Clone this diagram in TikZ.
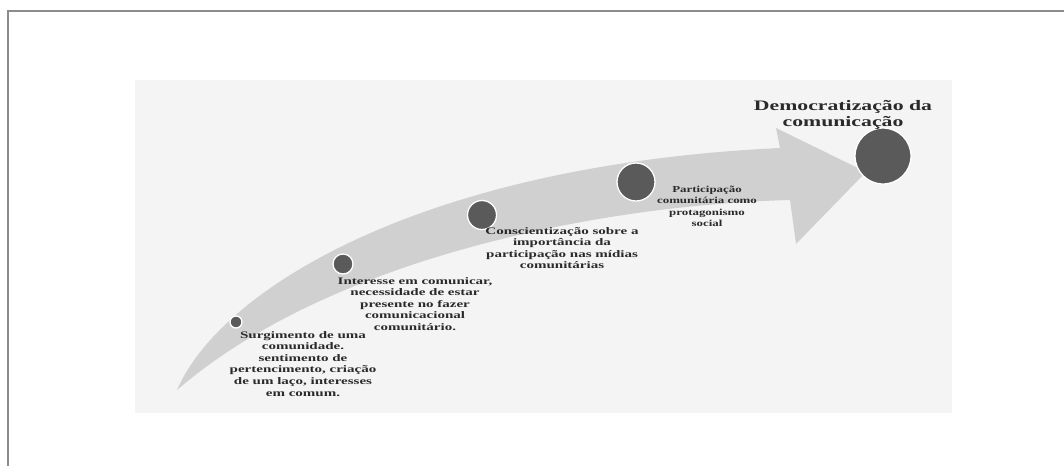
\documentclass[tikz,border=0pt]{standalone}
\usepackage{fontspec}
\setmainfont{Liberation Serif}
\newfontfamily\bodyfont[FakeStretch=1.5]{Liberation Serif}
\newfontfamily\smallfont[FakeStretch=1.4]{Liberation Serif}
\definecolor{framegray}{HTML}{8C8C8C}
\definecolor{panelgray}{HTML}{F4F4F4}
\definecolor{arrowgray}{HTML}{D0D0D0}
\definecolor{dotgray}{HTML}{5A5A5A}
\definecolor{inkgray}{HTML}{2A2A2A}
\begin{document}
\begin{tikzpicture}[x=1pt,y=-1pt,
  stage/.style={circle, fill=dotgray, draw=white, line width=1.3pt, inner sep=0pt},
  caption/.style={align=center, inner sep=0pt, anchor=north, text=inkgray,
    font=\bodyfont\bfseries\fontsize{10}{11.6}\selectfont},
  smallcaption/.style={caption, font=\smallfont\bfseries\fontsize{9.2}{11.2}\selectfont},
  goal/.style={align=center, inner sep=0pt, anchor=north, text=inkgray,
    font=\bodyfont\bfseries\fontsize{14.5}{16.5}\selectfont}]
\useasboundingbox (0,0) rectangle (1064,466);
% page frame (top and left edges)
\draw[framegray, line width=1.5pt] (1064,11) -- (8,11) -- (8,466);
% light panel behind the figure
\fill[panelgray] (135,80) rectangle (952,413);
% curved rising arrow
\fill[arrowgray] (177,390) .. controls (220,290) and (420,165) .. (780,148)
  -- (776,128) -- (866,172) -- (796,244) -- (790,200)
  .. controls (600,205) and (330,258) .. (177,390) -- cycle;
% stages along the arrow
\node[stage, minimum size=12pt] (s1) at (236,322) {};
\node[stage, minimum size=20pt] (s2) at (343,264) {};
\node[stage, minimum size=29pt] (s3) at (482,215) {};
\node[stage, minimum size=38pt] (s4) at (636,182) {};
\node[stage, minimum size=56pt] (s5) at (883,156) {};
% stage captions
\node[caption] (t1) at (303,331) {Surgimento de uma\\comunidade.\\sentimento de\\pertencimento, criação\\de um laço, interesses\\em comum.};
\node[caption] (t2) at (415,277) {Interesse em comunicar,\\necessidade de estar\\presente no fazer\\comunicacional\\comunitário.};
\node[caption] (t3) at (562,227) {Conscientização sobre a\\importância da\\participação nas mídias\\comunitárias};
\node[smallcaption] (t4) at (707,186) {Participação\\comunitária como\\protagonismo\\social};
\node[goal] (t5) at (843,100) {Democratização da\\comunicação};
\end{tikzpicture}
\end{document}
